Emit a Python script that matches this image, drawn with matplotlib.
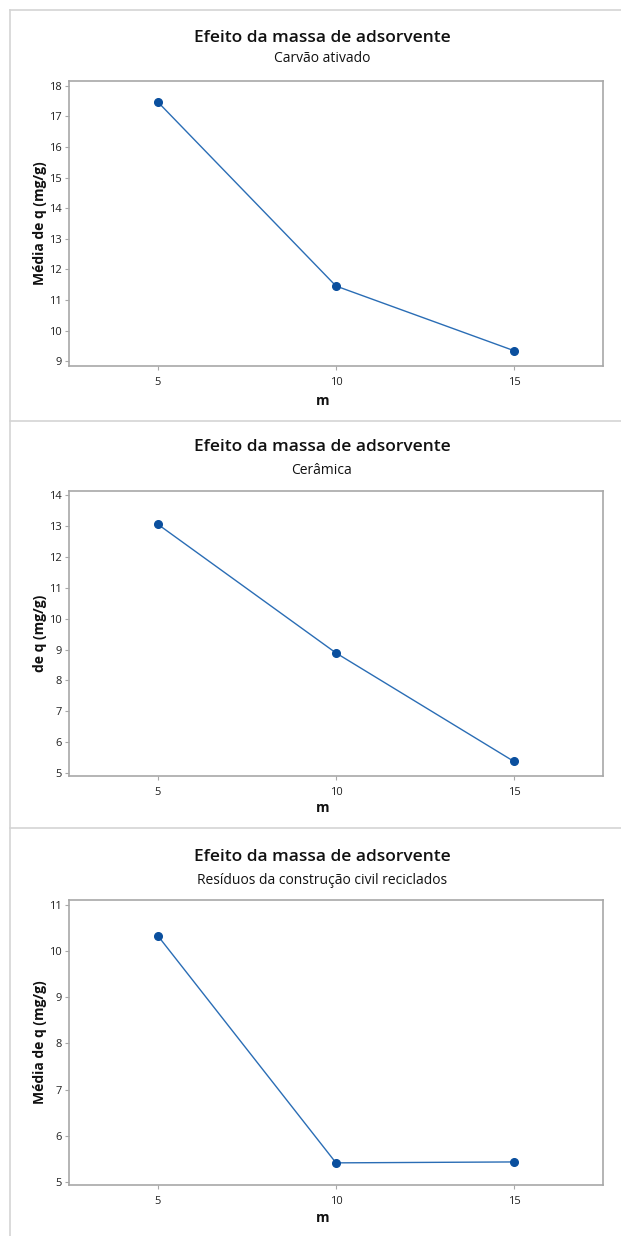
import matplotlib.pyplot as plt
from matplotlib.lines import Line2D

plt.rcParams['font.family'] = ['Open Sans', 'DejaVu Sans']

# data
m = [5, 10, 15]
q_carvao = [17.46, 11.46, 9.35]
q_ceramica = [13.05, 8.89, 5.38]
q_residuos = [10.33, 5.41, 5.43]

title = "Efeito da massa de adsorvente"
subtitles = ["Carvão ativado", "Cerâmica", "Resíduos da construção civil reciclados"]
ylabels = ["Média de q (mg/g)", "de q (mg/g)", "Média de q (mg/g)"]
yticks = [list(range(9, 19)), list(range(5, 15)), list(range(5, 12))]
ylims = [(8.85, 18.15), (4.91, 14.13), (4.93, 11.11)]

W, H = 621, 1236
# pixel layout of each panel: axes top, axes bottom, title y, subtitle y, x label y
panels = [
    dict(top=81, bottom=366, ty=38, sy=59, xl=401),
    dict(top=491, bottom=776, ty=447, sy=470, xl=808),
    dict(top=900, bottom=1185, ty=857, sy=880, xl=1218),
]
ax_left, ax_right = 69, 603

line_col = "#2a6db5"
mark_col = "#0a4f9e"
frame_col = "#a8a8a8"
text_col = "#222222"

fig = plt.figure(figsize=(W / 100, H / 100), dpi=100)

# outer frame and separators
def hline(y, x0=10, x1=W):
    fig.add_artist(Line2D([x0 / W, x1 / W], [1 - y / H, 1 - y / H], color="#d4d4d4", lw=1.2))

hline(10)
hline(421)
hline(828)
fig.add_artist(Line2D([10 / W, 10 / W], [1 - 10 / H, 0], color="#d4d4d4", lw=1.2))

series = [q_carvao, q_ceramica, q_residuos]
for i, p in enumerate(panels):
    ax = fig.add_axes([ax_left / W, 1 - p["bottom"] / H,
                       (ax_right - ax_left) / W, (p["bottom"] - p["top"]) / H])
    ax.plot(m, series[i], color=line_col, lw=1.0, marker="o", ms=5.5,
            mfc=mark_col, mec=mark_col)
    ax.set_xlim(2.5, 17.5)
    ax.set_ylim(*ylims[i])
    ax.set_xticks(m)
    ax.set_yticks(yticks[i])
    ax.tick_params(colors=frame_col, labelcolor=text_col, labelsize=8,
                   length=3, width=0.8, pad=2)
    ax.tick_params(axis="x", pad=5)
    for s in ax.spines.values():
        s.set_color(frame_col)
        s.set_linewidth(1.2)
    ax.set_ylabel(ylabels[i], fontsize=10, fontweight="bold", color="#111111", labelpad=2)
    fig.text((ax_left + ax_right) / 2 / W - 0.022, 1 - p["xl"] / H, "m",
             fontsize=10, fontweight="bold", color="#111111", ha="center", va="center")
    fig.text(322 / W, 1 - p["ty"] / H, title, fontsize=12.5, fontweight="semibold",
             color="#111111", ha="center", va="center")
    fig.text(322 / W, 1 - p["sy"] / H, subtitles[i], fontsize=10,
             color="#111111", ha="center", va="center")

fig.savefig("out.png", dpi=100, facecolor="white")
